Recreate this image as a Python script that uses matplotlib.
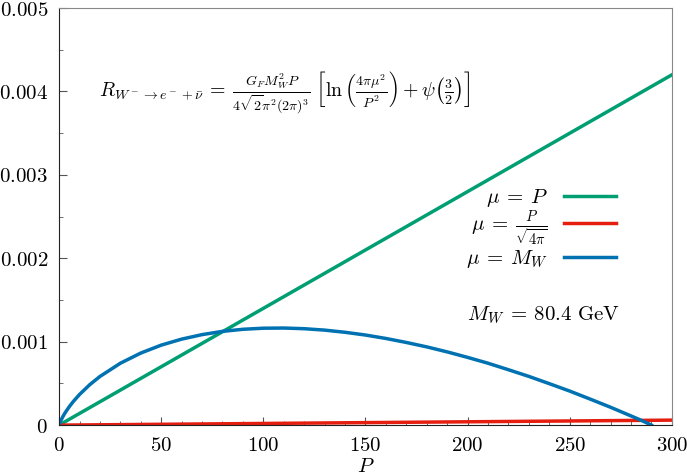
import matplotlib.pyplot as plt
from matplotlib.ticker import FuncFormatter, MultipleLocator

plt.rcParams['mathtext.fontset'] = 'cm'
plt.rcParams['font.family'] = 'DejaVu Serif'

# mu = P and mu = P/sqrt(4 pi) are straight lines
p_lin = [0, 300]
r_mu_p = [0, 0.0042]
r_mu_p4pi = [0, 0.00006]

# mu = M_W
p_mw = [0, 0.5, 1, 2, 3, 5, 7, 10, 15, 20, 30, 40, 50, 60, 70, 80, 90, 100,
        110, 120, 130, 140, 150, 160, 170, 180, 190, 200, 210, 220, 230, 240,
        250, 260, 270, 280, 285, 290]
r_mu_mw = [0, 3.47e-5, 6.18e-5, 1.085e-4, 1.495e-4, 2.213e-4, 2.842e-4,
           3.672e-4, 4.845e-4, 5.833e-4, 7.42e-4, 8.64e-4, 9.59e-4, 1.031e-3,
           1.085e-3, 1.124e-3, 1.149e-3, 1.162e-3, 1.164e-3, 1.156e-3,
           1.139e-3, 1.113e-3, 1.080e-3, 1.039e-3, 9.91e-4, 9.38e-4, 8.78e-4,
           8.12e-4, 7.42e-4, 6.64e-4, 5.84e-4, 4.97e-4, 4.08e-4, 3.12e-4,
           2.14e-4, 1.1e-4, 5.8e-5, 0]

fig = plt.figure(figsize=(6.87, 4.75), dpi=100)
ax = fig.add_axes([0.086, 0.105, 0.892, 0.878])

ax.plot(p_lin, r_mu_p, color='#009e73', lw=2.5, label=r'$\mu\:=\:P$')
ax.plot(p_lin, r_mu_p4pi, color='#e51e10', lw=2.5,
        label=r'$\mu\:=\:\frac{P}{\sqrt{4\pi}}$')
ax.plot(p_mw, r_mu_mw, color='#0072b2', lw=2.5, label=r'$\mu\:=\:M_W$')

ax.set_xlim(0, 300)
ax.set_ylim(0, 0.005)
ax.xaxis.set_major_locator(MultipleLocator(50))
ax.xaxis.set_minor_locator(MultipleLocator(10))
ax.yaxis.set_major_locator(MultipleLocator(0.001))
ax.yaxis.set_minor_locator(MultipleLocator(0.0005))
ax.xaxis.set_major_formatter(FuncFormatter(lambda v, p: r'$%d$' % v))
ax.yaxis.set_major_formatter(
    FuncFormatter(lambda v, p: r'$0$' if v == 0 else r'$%.3f$' % v))
ax.tick_params(which='both', direction='in', labelsize=15, colors='#555555',
               labelcolor='black')
ax.tick_params(which='major', length=6, pad=8)
ax.tick_params(which='minor', length=3)
for s in ['top', 'right']:
    ax.spines[s].set_color('#888888')
for s in ['left', 'bottom']:
    ax.spines[s].set_color('#222222')

ax.set_xlabel(r'$P$', fontsize=15, labelpad=1)

ax.text(0.065, 0.79,
        r'$R_{W^-\to e^-+\bar\nu}\:=\:\frac{G_F M_W^2 P}{4\sqrt{2}\pi^2(2\pi)^3}'
        r'\;\left[\ln\left(\frac{4\pi\mu^2}{P^2}\right)+\psi\left(\frac{3}{2}\right)\right]$',
        transform=ax.transAxes, fontsize=14.3)
ax.text(0.665, 0.25, r'$M_W\:=\:80.4\ \mathrm{GeV}$', transform=ax.transAxes,
        fontsize=15)

ax.legend(loc='upper right', bbox_to_anchor=(0.94, 0.615), frameon=False,
          markerfirst=False, fontsize=15, handlelength=2.5, labelspacing=0.0,
          handletextpad=0.8)
for t in ax.get_legend().get_texts():
    t.set_ha('right')

fig.savefig('out.png', dpi=100)
